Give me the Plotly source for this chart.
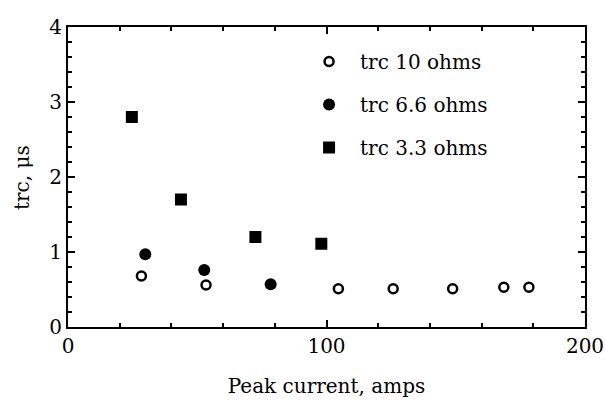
import plotly.graph_objects as go

# Data
x_10 = [28.4, 53.4, 104.6, 125.8, 148.8, 168.6, 178.3]
y_10 = [0.68, 0.56, 0.51, 0.51, 0.51, 0.53, 0.53]

x_66 = [29.9, 52.7, 78.4]
y_66 = [0.97, 0.76, 0.57]

x_33 = [24.7, 43.7, 72.5, 98.0]
y_33 = [2.80, 1.70, 1.20, 1.11]

names = ["trc 10 ohms", "trc 6.6 ohms", "trc 3.3 ohms"]
x_title = "Peak current, amps"
y_title = "trc, μs"

FONT = "DejaVu Serif"

fig = go.Figure()
fig.add_trace(go.Scatter(x=x_10, y=y_10, mode="markers", name=names[0], legendgroup="a",
                         marker=dict(symbol="circle-open", size=9, color="black",
                                     line=dict(width=2.5, color="black"))))
fig.add_trace(go.Scatter(x=x_66, y=y_66, mode="markers", name=names[1], legendgroup="b",
                         marker=dict(symbol="circle", size=12, color="black")))
fig.add_trace(go.Scatter(x=x_33, y=y_33, mode="markers", name=names[2], legendgroup="c",
                         marker=dict(symbol="square", size=12, color="black")))

axis_common = dict(
    showline=True, linecolor="black", linewidth=2, mirror="allticks",
    ticks="inside", ticklen=7, tickwidth=2, tickcolor="black",
    showgrid=False, zeroline=False,
    tickfont=dict(family=FONT, size=20, color="black"),
)

fig.update_xaxes(range=[0, 200], tickvals=[0, 100, 200],
                 minor=dict(dtick=20, ticks="inside", ticklen=4, tickwidth=2, tickcolor="black", showgrid=False),
                 title=dict(text=x_title, font=dict(family=FONT, size=20, color="black"), standoff=22),
                 **axis_common)
fig.update_yaxes(range=[0, 4], tickvals=[0, 1, 2, 3, 4],
                 minor=dict(dtick=0.2, ticks="inside", ticklen=4, tickwidth=2, tickcolor="black", showgrid=False),
                 **axis_common)

fig.add_annotation(text=y_title, xref="paper", yref="paper", x=-0.089, y=0.5,
                   xanchor="center", yanchor="middle", textangle=-90, showarrow=False,
                   font=dict(family=FONT, size=20, color="black"))

fig.update_layout(
    width=605, height=404,
    margin=dict(l=68, r=20, t=27, b=77, autoexpand=False),
    paper_bgcolor="white", plot_bgcolor="white",
    font=dict(family=FONT, size=20, color="black"),
    showlegend=True,
    legend=dict(x=0.445, y=0.95, xanchor="left", yanchor="top",
                bgcolor="rgba(0,0,0,0)", borderwidth=0,
                itemwidth=52, tracegroupgap=14,
                font=dict(family=FONT, size=20, color="black")),
)

fig.write_html("out.html")
